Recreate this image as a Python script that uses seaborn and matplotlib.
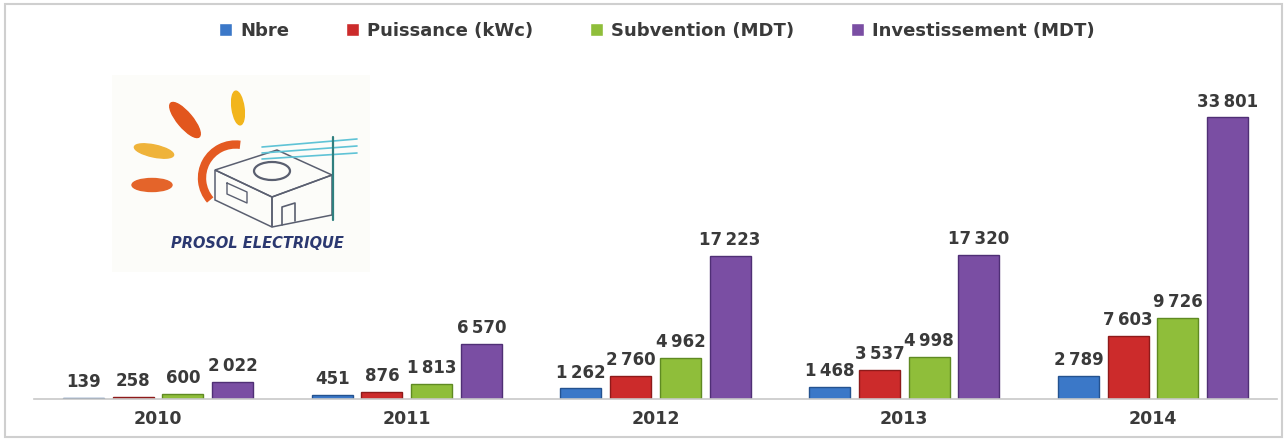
import pandas as pd
import numpy as np
import matplotlib.pyplot as plt
import seaborn as sns
from matplotlib.patches import Ellipse, Arc, Rectangle, Polygon

# --- Data ---
annees = ['2010', '2011', '2012', '2013', '2014']
series = ['Nbre', 'Puissance (kWc)', 'Subvention (MDT)', 'Investissement (MDT)']
nbre = [139, 451, 1262, 1468, 2789]
puissance = [258, 876, 2760, 3537, 7603]
subvention = [600, 1813, 4962, 4998, 9726]
investissement = [2022, 6570, 17223, 17320, 33801]
couleurs = ['#3b78c8', '#cc2b2b', '#8fbe3a', '#7a4ea3']
bords = ['#24528f', '#8e1a1a', '#5f8a22', '#4f2f75']

df = pd.DataFrame({
    'Annee': annees * 4,
    'Serie': np.repeat(series, len(annees)),
    'Valeur': nbre + puissance + subvention + investissement,
})

sns.set_style('white')
plt.rcParams['font.family'] = ['DejaVu Sans']
txt = '#3a3a3a'

fig = plt.figure(figsize=(12.88, 4.40), dpi=100)
ax = fig.add_axes([33.6 / 1288, 41 / 440, 1243.8 / 1288, 339 / 440])

sns.barplot(data=df, x='Annee', y='Valeur', hue='Serie', order=annees,
            hue_order=series, palette=couleurs, width=0.8, gap=0.18,
            saturation=1, ax=ax)

for cont, bc in zip(ax.containers, bords):
    for b in cont:
        b.set_edgecolor(bc)
        b.set_linewidth(1.0)
    vals = [b.get_height() for b in cont]
    labs = [f"{int(round(v)):,}".replace(',', '\u2009') for v in vals]
    ax.bar_label(cont, labels=labs, padding=5, fontsize=12,
                 fontweight='bold', color=txt)

ax.set_xlim(-0.5, 4.5)
ax.set_ylim(0, 40700)
ax.set_xlabel('')
ax.set_ylabel('')
ax.set_yticks([])
for s in ['top', 'left', 'right']:
    ax.spines[s].set_visible(False)
ax.spines['bottom'].set_color('#c8c8c8')
ax.spines['bottom'].set_linewidth(1.2)
ax.tick_params(axis='x', length=0, pad=8)
for t in ax.get_xticklabels():
    t.set_fontweight('bold')
    t.set_fontsize(12.5)
    t.set_color(txt)

handles, labels = ax.get_legend_handles_labels()
ax.legend_.remove()
fig.legend(handles, labels, loc='center', bbox_to_anchor=(657 / 1288, 1 - 31 / 440),
           ncol=4, frameon=False, handlelength=0.72, handleheight=0.72,
           handletextpad=0.45, columnspacing=3.15,
           prop={'weight': 'bold', 'size': 13})
for t in fig.legends[0].get_texts():
    t.set_color(txt)

# --- logo PROSOL ELECTRIQUE ---
lg = fig.add_axes([112 / 1288, 1 - 272 / 440, 258 / 1288, 197 / 440])
lg.set_xlim(0, 258)
lg.set_ylim(197, 0)
lg.axis('off')
lg.add_patch(Rectangle((0, 0), 258, 197, color='#fcfcf9', zorder=0))
lg.add_patch(Ellipse((73, 45), 44, 15, angle=50, color='#e2561d'))
lg.add_patch(Ellipse((126, 33), 34, 12, angle=82, color='#f2b51c'))
lg.add_patch(Ellipse((42, 76), 40, 12, angle=12, color='#efb33a'))
lg.add_patch(Ellipse((40, 110), 40, 13, angle=0, color='#e4642a'))
lg.add_patch(Arc((123.5, 103), 67, 67, theta1=139, theta2=278, color='#e45a22', lw=6))
for y0, y1 in [(72, 64), (78, 71), (84, 78)]:
    lg.plot([150, 245], [y0, y1], color='#5fc3d6', lw=1.2)
lg.plot([221, 221], [62, 145], color='#2f7f7f', lw=1.6)
house = '#5a5f70'
lg.add_patch(Polygon([(103, 95), (165, 75), (220, 100), (160, 122)], closed=True,
                     fill=False, ec=house, lw=1.1))
lg.add_patch(Polygon([(103, 95), (160, 122), (160, 152), (103, 125)], closed=True,
                     fill=False, ec=house, lw=1.1))
lg.add_patch(Polygon([(160, 122), (220, 100), (220, 140), (160, 152)], closed=True,
                     fill=False, ec=house, lw=1.1))
lg.add_patch(Ellipse((160, 96), 36, 18, fill=False, ec=house, lw=1.6))
lg.plot([170, 170, 183, 183], [150, 132, 128, 146], color=house, lw=1.2)
lg.plot([115, 135, 135, 115, 115], [108, 117, 128, 119, 108], color=house, lw=1)
lg.text(145, 168, 'PROSOL ELECTRIQUE', ha='center', va='center', fontsize=10.5,
        fontweight='heavy', fontstyle='italic', color='#2b3870')

# cadre
fig.add_artist(Rectangle((5 / 1288, 3 / 440), 1277 / 1288, 433 / 440,
                         transform=fig.transFigure, fill=False,
                         ec='#cfcfcf', lw=1.5))

plt.savefig('out.png', dpi=100)
